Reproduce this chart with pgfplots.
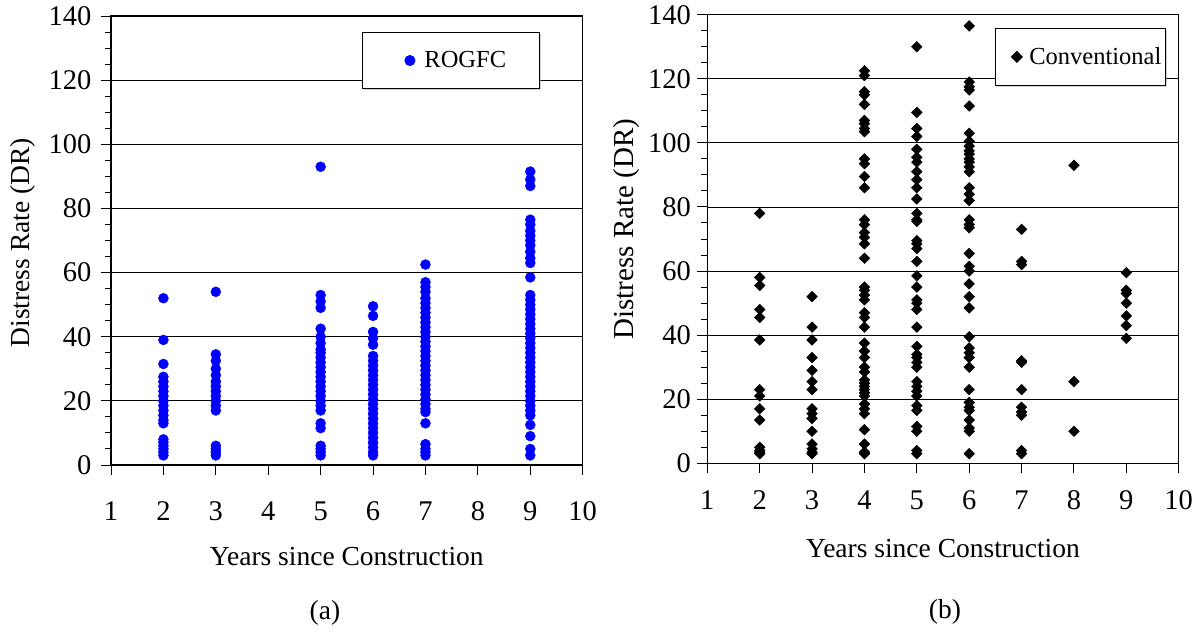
\documentclass[border=0pt]{standalone}
\usepackage{fontspec}
\setmainfont{Liberation Serif}
\usepackage{pgfplots}
\pgfplotsset{compat=1.18}
\usetikzlibrary{shadows}

\newcommand{\lblfont}{\fontsize{27.5}{32}\selectfont}
\newcommand{\lblfontB}{\fontsize{29}{33}\selectfont}
\newcommand{\tckfont}{\fontsize{28.5}{32}\selectfont}
\newcommand{\legfont}{\fontsize{24.5}{28}\selectfont}

\pgfplotsset{
  legimgA/.style={legend image code/.code={\path (-16pt,0pt) (12pt,0pt); \draw[##1] plot coordinates {(0pt,0pt)};}},
  legimgB/.style={legend image code/.code={\path (-19pt,0pt) (10pt,0pt); \draw[##1] plot coordinates {(0pt,0pt)};}},
  chartbase/.style={
    scale only axis,
    xmin=1, xmax=10, ymin=0, ymax=140,
    xtick={1,...,10}, ytick={0,20,...,140},
    minor y tick num=3,
    tick pos=left,
    tick align=outside,
    major tick length=10pt,
    minor tick length=6pt,
    every tick/.style={black, line width=1pt},
    ymajorgrids,
    major grid style={black, line width=0.9pt},
    axis line style={line width=1.2pt},
    /pgf/number format/assume math mode=true,
    tick label style={font=\tckfont},
    every axis x label/.append style={font=\lblfont},
    every axis y label/.append style={font=\lblfont},
    legend style={font=\legfont, draw=black, line width=1pt, fill=white,
      drop shadow={shadow xshift=1.5pt, shadow yshift=-1.5pt, fill=gray!70},
      inner ysep=17pt},
  }
}

\begin{document}
\begin{tikzpicture}
\useasboundingbox (0,0) rectangle (1201pt,-638pt);

% ---------------- (a) ROGFC ----------------
\begin{axis}[chartbase,
  at={(111pt,-465pt)}, anchor=south west,
  width=471.7pt, height=449pt,
  xticklabel style={yshift=-23pt},
  yticklabel style={xshift=-6pt},
  xlabel={Years since Construction},
  ylabel={Distress Rate (DR)},
  xlabel style={at={(axis description cs:0.5,-0.203)}, anchor=center, font=\lblfont},
  ylabel style={at={(axis description cs:-0.186,0.495)}, anchor=center, font=\lblfont},
  legend style={at={(0.532,0.964)}, anchor=north west, inner xsep=31pt},
]
\addplot[only marks, mark=*, mark size=5pt, color=blue, mark options={fill=blue, draw=blue}, legimgA] coordinates {
(2,52) (2,39) (2,31.5) (2,27.5) (2,26) (2,24.5) (2,23) (2,21.5) (2,20) (2,18.5) (2,17) (2,15.5) (2,14) (2,13)
(2,8) (2,7) (2,6) (2,5) (2,4) (2,3)
(3,54) (3,34.5) (3,32.5) (3,30) (3,28) (3,26) (3,24.5) (3,23) (3,21.5) (3,20) (3,18.5) (3,17)
(3,6) (3,5) (3,4) (3,3)
(5,93) (5,53) (5,51) (5,49) (5,42.5) (5,40) (5,38) (5,36) (5,35) (5,33.5) (5,32) (5,30.5) (5,29) (5,27.5)
(5,26) (5,24.5) (5,23) (5,21.5) (5,20) (5,18.5) (5,17) (5,13) (5,11.5) (5,6) (5,5) (5,4) (5,3)
(6,49.5) (6,46.5) (6,41.5) (6,39.5) (6,37.5) (6,34) (6,32.5) (6,31) (6,29.5) (6,28) (6,26.5) (6,25)
(6,23.5) (6,22) (6,20.5) (6,19) (6,17.5) (6,16) (6,14.5) (6,13) (6,11.5) (6,10) (6,8.5) (6,7) (6,5.5) (6,4) (6,3)
(7,62.5) (7,57) (7,55.5) (7,54) (7,52) (7,50.5) (7,49) (7,47.5) (7,46) (7,44.5) (7,43) (7,41.5) (7,40)
(7,38.5) (7,37) (7,35.5) (7,34) (7,32.5) (7,31) (7,29.5) (7,28) (7,26.5) (7,25) (7,23.5) (7,22) (7,20.5)
(7,19) (7,17.5) (7,16.5) (7,13) (7,6.5) (7,5) (7,4) (7,3)
(9,91.5) (9,89) (9,87) (9,76.5) (9,75) (9,73) (9,71.5) (9,70) (9,68.5) (9,66.5) (9,64.5) (9,63) (9,58.5)
(9,53) (9,51.5) (9,50) (9,48.5) (9,47) (9,45.5) (9,44) (9,42.5) (9,41) (9,39.5) (9,38) (9,36.5) (9,35)
(9,33.5) (9,32) (9,30.5) (9,29) (9,27.5) (9,26) (9,24.5) (9,23) (9,21.5) (9,20) (9,18.5) (9,17) (9,15.5)
(9,12.5) (9,9) (9,5) (9,3)
};
\addlegendentry{ROGFC}
\end{axis}

% ---------------- (b) Conventional ----------------
\begin{axis}[chartbase,
  at={(707.3pt,-463.3pt)}, anchor=south west,
  width=471.4pt, height=448.6pt,
  xticklabel style={yshift=-14pt},
  yticklabel style={xshift=-3pt},
  xlabel={Years since Construction},
  ylabel={Distress Rate (DR)},
  xlabel style={at={(axis description cs:0.5,-0.189)}, anchor=center, font=\lblfont},
  ylabel style={at={(axis description cs:-0.172,0.522)}, anchor=center, font=\lblfontB},
  legend style={at={(0.610,0.970)}, anchor=north west, inner xsep=2pt},
]
\addplot[only marks, mark=square*, mark size=3.8pt, mark options={rotate=45, fill=black, draw=black}, color=black, legimgB] coordinates {
(2,78) (2,58) (2,55.5) (2,48) (2,45.5) (2,38.5) (2,23) (2,21) (2,17) (2,13.5) (2,5) (2,4) (2,3.5) (2,3)
(3,52) (3,42.5) (3,38.5) (3,33) (3,29) (3,25.5) (3,23) (3,17) (3,15.5) (3,14) (3,10) (3,6) (3,4.5) (3,3.5) (3,3)
(4,122.5) (4,121) (4,116) (4,115) (4,112) (4,107) (4,106) (4,104.5) (4,103.5) (4,95) (4,93.5) (4,89.5)
(4,86) (4,76) (4,74.5) (4,72) (4,70.5) (4,68.5) (4,64) (4,55) (4,54) (4,52.5) (4,51) (4,47) (4,45.5)
(4,42.5) (4,37.5) (4,35) (4,33) (4,30) (4,28.5) (4,26) (4,25) (4,24) (4,23) (4,22) (4,21) (4,18.5)
(4,17) (4,15.5) (4,10.5) (4,6) (4,3.5) (4,3)
(5,130) (5,109.5) (5,104.5) (5,102) (5,98) (5,95.5) (5,94) (5,91) (5,88.5) (5,86) (5,82.5) (5,78) (5,76)
(5,75.5) (5,69.5) (5,68.5) (5,67) (5,63) (5,58.5) (5,55) (5,51) (5,50) (5,48) (5,42.5) (5,36.5) (5,34)
(5,33) (5,31.5) (5,30) (5,25.5) (5,24) (5,22.5) (5,21) (5,18) (5,16.5) (5,11.5) (5,10) (5,4) (5,3)
(6,136.5) (6,119) (6,117.5) (6,116.5) (6,111.5) (6,103) (6,100.5) (6,99) (6,97.5) (6,96.5) (6,95) (6,94)
(6,92.5) (6,91) (6,86) (6,84) (6,82) (6,76) (6,74.5) (6,73.5) (6,65.5) (6,61.5) (6,60) (6,56) (6,52)
(6,48.5) (6,39.5) (6,36) (6,34.5) (6,33) (6,30) (6,23) (6,19) (6,17.5) (6,16.5) (6,13.5) (6,11) (6,10) (6,3)
(7,73) (7,63) (7,62) (7,32) (7,31.5) (7,23) (7,17.5) (7,16) (7,15) (7,4) (7,3)
(8,93) (8,25.5) (8,10)
(9,59.5) (9,54) (9,53) (9,50) (9,46) (9,43) (9,39)
};
\addlegendentry{Conventional}
\end{axis}

\node[font=\lblfont] at (325pt,-613pt) {(a)};
\node[font=\lblfont] at (945pt,-612pt) {(b)};
\end{tikzpicture}
\end{document}
